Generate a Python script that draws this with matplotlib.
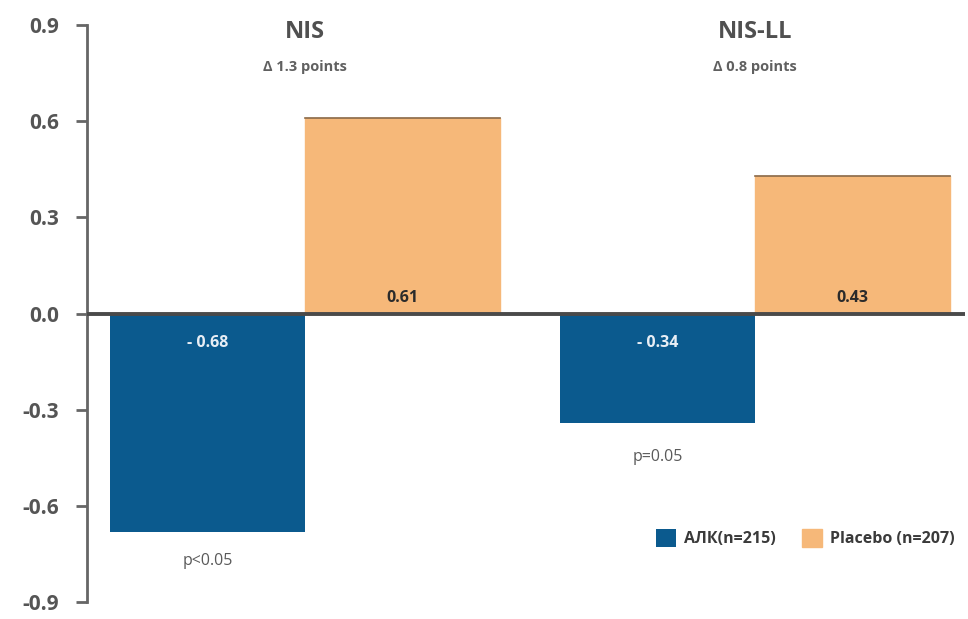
import numpy as np
import matplotlib.pyplot as plt

plt.rcParams['font.family'] = ['Open Sans', 'DejaVu Sans']

# данные: изменение баллов NIS и NIS-LL
groups = ['NIS', 'NIS-LL']
deltas = ['Δ 1.3 points', 'Δ 0.8 points']
alk_values = [-0.68, -0.34]
placebo_values = [0.61, 0.43]
p_labels = ['p<0.05', 'p=0.05']
series_names = ['АЛК(n=215)', 'Placebo (n=207)']
yticks = [-0.9, -0.6, -0.3, 0.0, 0.3, 0.6, 0.9]

blue = '#0b5a8e'
orange = '#f6b879'
grey = '#555555'

fig = plt.figure(figsize=(9.68, 6.19), dpi=100)
ax = fig.add_axes([0.0899, 0.027, 0.907, 0.933])

x = np.arange(len(groups))
w = 0.433
bars_alk = ax.bar(x - w / 2, alk_values, w, color=blue, label=series_names[0], zorder=2)
bars_pl = ax.bar(x + w / 2, placebo_values, w, color=orange, label=series_names[1],
                 zorder=2, edgecolor=orange)
for b in bars_pl:
    # тонкая тёмная кромка сверху столбца плацебо
    ax.plot([b.get_x(), b.get_x() + b.get_width()], [b.get_height()] * 2,
            color='#8a6a4a', lw=1.2, zorder=3)

ax.axhline(0, color='#4a4a4a', lw=2.8, zorder=4)

for i in range(len(groups)):
    ax.text(x[i], 0.878, groups[i], ha='center', va='center', fontsize=17,
            fontweight='bold', color='#505050', clip_on=False)
    ax.text(x[i], 0.767, deltas[i], ha='center', va='center', fontsize=10.5,
            fontweight='bold', color='#606060')
    ax.text(x[i] - w / 2, -0.093, '- %.2f' % abs(alk_values[i]), ha='center',
            va='center', fontsize=11.5, fontweight='bold', color='#e8eef5', zorder=5)
    ax.text(x[i] + w / 2, 0.049, '%.2f' % placebo_values[i], ha='center',
            va='center', fontsize=11.5, fontweight='bold', color='#2b2b2b', zorder=5)
    ax.annotate(p_labels[i], (x[i] - w / 2, alk_values[i]), xytext=(0, -21 if i == 0 else -25),
                textcoords='offset points', ha='center', va='center', fontsize=11.5,
                color='#5a5a5a')

ax.set_xlim(-0.484, 1.467)
ax.set_ylim(-0.9, 0.9)
ax.set_yticks(yticks)
ax.set_yticklabels(['%.1f' % t for t in yticks], fontsize=15, fontweight='bold', color=grey)
ax.tick_params(axis='y', length=8, width=2, color='#666666', pad=12)
ax.set_xticks([])
for s in ['top', 'right', 'bottom']:
    ax.spines[s].set_visible(False)
ax.spines['left'].set_color('#666666')
ax.spines['left'].set_linewidth(2)

leg = ax.legend(loc='lower right', bbox_to_anchor=(1.005, 0.07), ncol=2, frameon=False,
                handlelength=1.3, handleheight=1.3, handletextpad=0.5, columnspacing=1.6,
                prop={'size': 11.5, 'weight': 'bold'})
for t in leg.get_texts():
    t.set_color('#3a3a3a')

fig.savefig('out.png', dpi=100)
